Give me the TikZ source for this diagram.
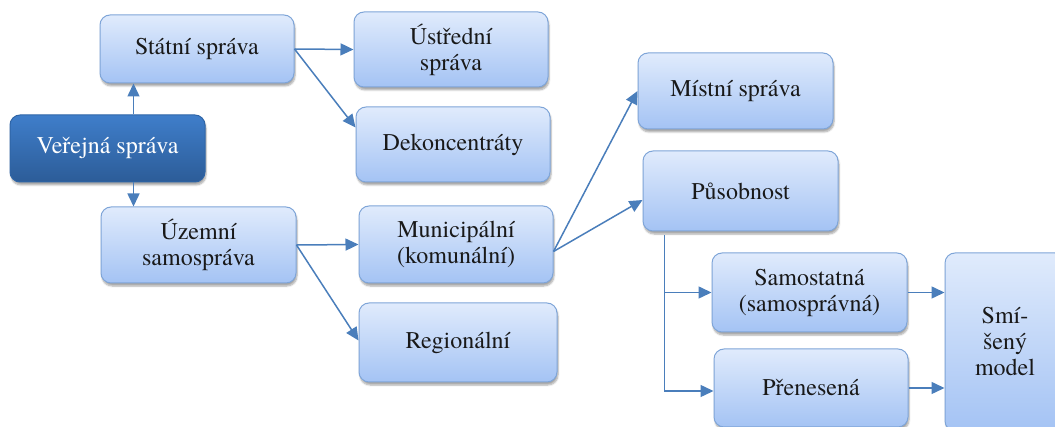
\documentclass[tikz,border=0pt]{standalone}
\usepackage{fontspec}
\newfontfamily\boxfont{texgyretermes-regular.otf}
\usetikzlibrary{arrows.meta,shadows.blur}
\definecolor{linkblue}{HTML}{4A7EBB}
\definecolor{boxedge}{HTML}{7FA5D8}
\definecolor{boxtop}{HTML}{E0EBFC}
\definecolor{boxbot}{HTML}{A4C3F4}
\definecolor{darktop}{HTML}{3F7ECA}
\definecolor{darkbot}{HTML}{2C5C98}
\definecolor{darkedge}{HTML}{2F65A6}
\tikzset{
  box/.style={rectangle, rounded corners=10pt, draw=boxedge, line width=1pt,
    top color=boxtop, bottom color=boxbot, align=center, text=black!90,
    font=\boxfont\fontsize{24}{26}\selectfont, inner sep=0pt,
    blur shadow={shadow blur steps=6, shadow xshift=1pt, shadow yshift=-3pt, shadow opacity=35}},
  darkbox/.style={box, draw=darkedge, top color=darktop, bottom color=darkbot, text=white},
  conn/.style={draw=linkblue, line width=1.5pt,
    -{Triangle[length=13pt,width=12pt]}}
}
\begin{document}
\begin{tikzpicture}[x=1pt,y=-1pt]
\useasboundingbox (0,0) rectangle (1055,427);
\clip (0,0) rectangle (1055,427);

% boxes
\node[darkbox, minimum width=195pt, minimum height=67pt] (ver) at (107.5,148.5) {Veřejná správa};
\node[box, minimum width=194pt, minimum height=68pt] (stat) at (197,49) {Státní správa};
\node[box, minimum width=195pt, minimum height=76pt] (uzem) at (198.5,245) {Územní\\samospráva};
\node[box, minimum width=194pt, minimum height=75pt] (ustr) at (451,49.5) {Ústřední\\správa};
\node[box, minimum width=194pt, minimum height=75pt] (dek) at (453,144.5) {Dekoncentráty};
\node[box, minimum width=194pt, minimum height=77pt] (mun) at (456,244.5) {Municipální\\(komunální)};
\node[box, minimum width=198pt, minimum height=79pt] (reg) at (458,342.5) {Regionální};
\node[box, minimum width=195pt, minimum height=76pt] (mist) at (735.5,91) {Místní správa};
\node[box, minimum width=195pt, minimum height=80pt] (pus) at (740.5,191) {Působnost};
\node[box, minimum width=195pt, minimum height=79pt] (sam) at (809.5,292.5) {Samostatná\\(samosprávná)};
\node[box, minimum width=194pt, minimum height=78pt] (pren) at (811,388) {Přenesená};
\node[box, minimum width=120pt, minimum height=178pt] (smi) at (1005,342) {Smí-\\šený\\model};

% connectors
\draw[conn] ([xshift=26pt]ver.north) -- ([xshift=26pt]ver.north |- stat.south);
\draw[conn] ([xshift=26pt]ver.south) -- ([xshift=26pt]ver.south |- uzem.north);
\draw[conn] (stat.east) -- (ustr.west);
\draw[conn] (stat.east) -- ([yshift=17pt]dek.west);
\draw[conn] (uzem.east) -- (mun.west);
\draw[conn] (uzem.east) -- ([yshift=2pt]reg.west);
\coordinate (mout) at ([yshift=-7pt]mun.east);
\draw[conn] (mout) -- (mist.west);
\draw[conn] (mout) -- ([yshift=-9pt]pus.west);
\coordinate (pdown) at ([xshift=22pt,yshift=-4pt]pus.south west);
\draw[conn] (pdown) |- (sam.west);
\draw[conn] (pdown) |- ([yshift=-3pt]pren.west);
\draw[conn] (sam.east) -- (sam.east -| smi.west);
\draw[conn] (pren.east) -- (pren.east -| smi.west);
\end{tikzpicture}
\end{document}
